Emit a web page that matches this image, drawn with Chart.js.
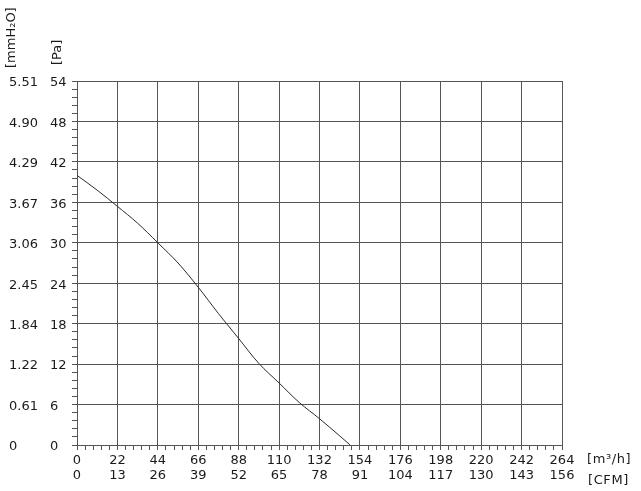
<!DOCTYPE html>
<html><head><meta charset="utf-8">
<script src="https://cdn.jsdelivr.net/npm/chart.js@4/dist/chart.umd.min.js"></script>
<style>html,body{margin:0;padding:0;background:#fff}#wrap{width:641px;height:491px}</style>
</head><body><div id="wrap"><canvas id="c" width="641" height="491"></canvas></div>
<script>
// ---- data ----
const flowM3h    = [0, 11, 22, 33, 44, 55, 66, 77, 88, 99, 110, 121, 132, 143, 148.7];
const pressurePa = [40, 37.8, 35.4, 32.9, 30.0, 27.0, 23.4, 19.5, 15.8, 12.1, 9.2, 6.3, 3.9, 1.35, 0];
const xTicksM3h  = [0, 22, 44, 66, 88, 110, 132, 154, 176, 198, 220, 242, 264];
const xTicksCFM  = ['0','13','26','39','52','65','78','91','104','117','130','143','156'];
const yTicksPa   = [0, 6, 12, 18, 24, 30, 36, 42, 48, 54];
const yTicksMmH2O = ['0','0.61','1.22','1.84','2.45','3.06','3.67','4.29','4.90','5.51'];
const unitX1 = '[m³/h]';
const unitX2 = '[CFM]';
const unitY1 = '[mmH₂O]';
const unitY2 = '[Pa]';

const FONT = {family: "'DejaVu Sans', Verdana, sans-serif", size: 13};
const TXT = '#1a1a1a';
const GRID = '#555';
const xStep = xTicksM3h[1] - xTicksM3h[0];
const yStep = yTicksPa[1] - yTicksPa[0];
const isMajor = (v, s) => Math.abs(v / s - Math.round(v / s)) < 1e-6;

const points = flowM3h.map((x, i) => ({x, y: pressurePa[i]}));

const unitPlugin = {
  id: 'units',
  afterDraw(chart) {
    const ctx = chart.ctx;
    const a = chart.chartArea;
    ctx.save();
    ctx.fillStyle = TXT;
    ctx.font = "13px 'DejaVu Sans', Verdana, sans-serif";
    ctx.textBaseline = 'middle';
    ctx.textAlign = 'left';
    try { ctx.letterSpacing = '0.6px'; } catch (e) {}
    ctx.fillText(unitX1, a.right + 25, a.bottom + 15);
    ctx.fillText(unitX2, a.right + 26, a.bottom + 36);
    try { ctx.letterSpacing = '0px'; } catch (e) {}
    ctx.save();
    ctx.translate(12, 68);
    ctx.rotate(-Math.PI / 2);
    ctx.fillText(unitY1, 0, 0);
    ctx.restore();
    ctx.save();
    ctx.translate(58, 65);
    ctx.rotate(-Math.PI / 2);
    ctx.fillText(unitY2, 0, 0);
    ctx.restore();
    ctx.restore();
  }
};

new Chart(document.getElementById('c'), {
  type: 'line',
  data: {
    datasets: [{
      data: points,
      borderColor: '#2a2a2a',
      borderWidth: 1,
      pointRadius: 0,
      fill: false,
      tension: 0.35
    }]
  },
  options: {
    responsive: false,
    animation: false,
    devicePixelRatio: 1,
    layout: {padding: {left: 9, right: 79, top: 81, bottom: 5}},
    plugins: {legend: {display: false}, tooltip: {enabled: false}},
    scales: {
      x: {
        type: 'linear', position: 'bottom', weight: 0,
        min: xTicksM3h[0], max: xTicksM3h[xTicksM3h.length - 1],
        ticks: {
          stepSize: xStep / 5, autoSkip: false, maxRotation: 0, minRotation: 0,
          font: FONT, color: TXT, padding: 3,
          callback: (v) => isMajor(v, xStep) ? String(xTicksM3h[Math.round(v / xStep)]) : ''
        },
        grid: {
          color: (c) => isMajor(c.tick.value, xStep) ? GRID : 'rgba(0,0,0,0)',
          tickColor: GRID, tickLength: 5, lineWidth: 1
        },
        border: {display: true, color: GRID},
        afterFit: (s) => { s.height = 23; }
      },
      x2: {
        type: 'linear', position: 'bottom', weight: 1,
        min: xTicksM3h[0], max: xTicksM3h[xTicksM3h.length - 1],
        ticks: {
          stepSize: xStep, autoSkip: false, maxRotation: 0, minRotation: 0,
          font: FONT, color: TXT, padding: 0,
          callback: (v) => xTicksCFM[Math.round(v / xStep)]
        },
        grid: {display: false, drawTicks: false},
        border: {display: false},
        afterFit: (s) => { s.height = 18; }
      },
      y: {
        type: 'linear', position: 'left', weight: 0,
        min: yTicksPa[0], max: yTicksPa[yTicksPa.length - 1],
        ticks: {
          stepSize: yStep / 5, autoSkip: false, crossAlign: 'far',
          font: FONT, color: TXT, padding: 2, labelOffset: 2,
          callback: (v) => isMajor(v, yStep) ? String(yTicksPa[Math.round(v / yStep)]) : ''
        },
        grid: {
          color: (c) => isMajor(c.tick.value, yStep) ? GRID : 'rgba(0,0,0,0)',
          tickColor: GRID, tickLength: 5, lineWidth: 1
        },
        border: {display: true, color: GRID},
        afterFit: (s) => { s.width = 27; }
      },
      y2: {
        type: 'linear', position: 'left', weight: 1,
        min: yTicksPa[0], max: yTicksPa[yTicksPa.length - 1],
        ticks: {
          stepSize: yStep, autoSkip: false, crossAlign: 'far',
          font: FONT, color: TXT, padding: 0, labelOffset: 2,
          callback: (v) => yTicksMmH2O[Math.round(v / yStep)]
        },
        grid: {display: false, drawTicks: false},
        border: {display: false},
        afterFit: (s) => { s.width = 41; }
      }
    }
  },
  plugins: [unitPlugin]
});
</script>
</body></html>
